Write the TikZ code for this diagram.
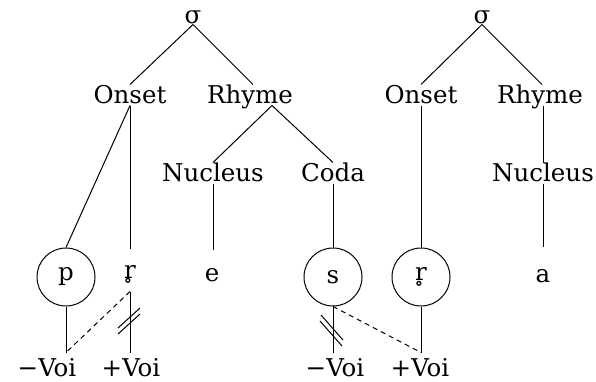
\documentclass[tikz,border=0pt]{standalone}
\usepackage{fontspec}
\setmainfont{DejaVu Serif}
\usetikzlibrary{calc}
\begin{document}
\begin{tikzpicture}[x=1pt,y=-1pt,
  every path/.style={line width=1pt},
  fnt/.style={font=\fontsize{24.5}{24.5}\selectfont},
  lab/.style={fnt,inner sep=0pt,text height=18pt,text depth=2pt},
  leaf/.style={fnt,inner sep=0pt,anchor=base},
  circ/.style={fnt,circle,draw,line width=1pt,minimum size=58pt,inner sep=0pt},
  voi/.style={fnt,inner sep=0pt,anchor=base,text height=23pt,text depth=0pt},
  dsh/.style={dash pattern=on 5pt off 4pt}]
\useasboundingbox (0,0) rectangle (596,381);
% top level
\node[fnt,inner sep=1pt,anchor=base,text height=9pt,text depth=0pt] (s1) at (193,23) {σ};
\node[fnt,inner sep=1pt,anchor=base,text height=9pt,text depth=0pt] (s2) at (482,23) {σ};
\node[lab] (on1) at (130,95) {Onset};
\node[lab] (rh1) at (250,95) {Rhyme};
\node[lab] (on2) at (421,95) {Onset};
\node[lab] (rh2) at (540,95) {Rhyme};
\node[lab] (nu1) at (213,173) {Nucleus};
\node[lab] (co) at (333,173) {Coda};
\node[lab] (nu2) at (543,173) {Nucleus};
% segments
\node[circ] (p) at (66,277) {p};
\node[leaf,text height=29pt,text depth=13pt] (r1) at (130,278) {r̥};
\node[leaf,text height=31pt,text depth=0pt] (e) at (212,281) {e};
\node[circ] (s) at (333,277) {s};
\node[circ] (r2) at (421,277) {r̥};
\node[leaf,text height=35pt,text depth=0pt] (a) at (543,282) {a};
% features
\node[voi] (vm1) at (47,376) {−Voi};
\node[voi] (vp1) at (131,376) {+Voi};
\node[voi] (vm2) at (335,376) {−Voi};
\node[voi] (vp2) at (420,376) {+Voi};
% tree lines
\draw (s1.south) -- (on1.north);
\draw (s1.south) -- ($(rh1.north)+(3,0)$);
\draw (s2.south) -- (on2.north);
\draw (s2.south) -- ($(rh2.north)+(2,0)$);
\draw ($(rh1.south)+(22,0)$) -- (nu1.north);
\draw ($(rh1.south)+(22,0)$) -- (co.north);
\draw (nu2.north |- rh2.south) -- (nu2.north);
\draw (on1.south) -- (p.north);
\draw (on1.south) -- (r1.north);
\draw (nu1.south) -- (e.north -| nu1.south);
\draw (co.south) -- (s.north);
\draw (on2.south) -- (r2.north);
\draw (nu2.south) -- (a.north);
% feature lines
\draw (p.south) -- (vm1.north -| p.south);
\draw (r1.south) -- (vp1.north -| r1.south);
\draw[dsh] (r1.south) -- (vm1.north -| p.south);
\draw (s.south) -- (vm2.north -| s.south);
\draw (r2.south) -- (vp2.north -| r2.south);
\draw[dsh] (s.south) -- (vp2.north -| r2.south);
% delinking marks
\draw (118,328) -- (140,308);
\draw (118,334) -- (140,314);
\draw (321,315) -- (343,340);
\draw (320,321) -- (342,346);
\end{tikzpicture}
\end{document}
